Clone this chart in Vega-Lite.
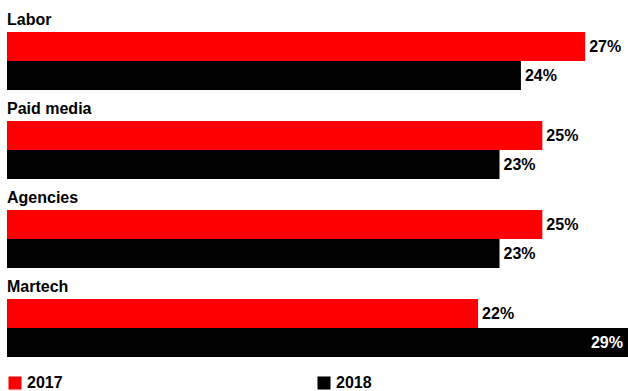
{
  "$schema": "https://vega.github.io/schema/vega-lite/v6.json",
  "padding": {"left": 7, "top": 12, "right": 0, "bottom": 0},
  "background": "white",
  "data": {
    "values": [
      {"category": "Labor", "year": "2017", "value": 0.27},
      {"category": "Labor", "year": "2018", "value": 0.24},
      {"category": "Paid media", "year": "2017", "value": 0.25},
      {"category": "Paid media", "year": "2018", "value": 0.23},
      {"category": "Agencies", "year": "2017", "value": 0.25},
      {"category": "Agencies", "year": "2018", "value": 0.23},
      {"category": "Martech", "year": "2017", "value": 0.22},
      {"category": "Martech", "year": "2018", "value": 0.29}
    ]
  },
  "facet": {
    "field": "category",
    "type": "nominal",
    "sort": ["Labor", "Paid media", "Agencies", "Martech"],
    "header": {
      "title": null,
      "labelAnchor": "start",
      "labelAlign": "left",
      "labelFont": "Liberation Sans",
      "labelFontSize": 16,
      "labelFontWeight": "bold",
      "labelColor": "#000000",
      "labelPadding": 4
    }
  },
  "columns": 1,
  "spacing": 11,
  "spec": {
    "width": 621,
    "height": 58,
    "encoding": {
      "y": {"field": "year", "type": "nominal", "axis": null, "scale": {"paddingInner": 0, "paddingOuter": 0}},
      "x": {"field": "value", "type": "quantitative", "axis": null, "scale": {"domain": [0, 0.29], "nice": false}}
    },
    "layer": [
      {
        "mark": {"type": "bar"},
        "encoding": {
          "color": {
            "field": "year",
            "type": "nominal",
            "scale": {"domain": ["2017", "2018"], "range": ["#ff0000", "#000000"]},
            "legend": {
              "title": null,
              "orient": "bottom",
              "direction": "horizontal",
              "symbolType": "square",
              "symbolSize": 170,
              "symbolStrokeWidth": 0,
              "labelFont": "Liberation Sans",
              "labelFontSize": 16,
              "labelFontWeight": "bold",
              "labelColor": "#000000",
              "columnPadding": 253,
              "offset": 18
            }
          }
        }
      },
      {
        "transform": [{"filter": "datum.value < 0.285"}],
        "mark": {"type": "text", "align": "left", "dx": 4, "font": "Liberation Sans", "fontSize": 16, "fontWeight": "bold", "color": "#000000"},
        "encoding": {"text": {"field": "value", "type": "quantitative", "format": ".0%"}}
      },
      {
        "transform": [{"filter": "datum.value >= 0.285"}],
        "mark": {"type": "text", "align": "right", "dx": -5, "font": "Liberation Sans", "fontSize": 16, "fontWeight": "bold", "color": "#ffffff"},
        "encoding": {"text": {"field": "value", "type": "quantitative", "format": ".0%"}}
      }
    ]
  },
  "config": {"view": {"stroke": null}}
}
